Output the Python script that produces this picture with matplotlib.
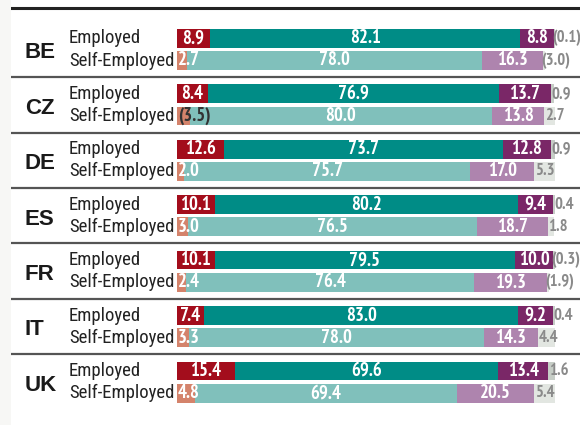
import matplotlib
matplotlib.use('Agg')
import matplotlib.pyplot as plt
from matplotlib import font_manager as fm

countries = ['BE', 'CZ', 'DE', 'ES', 'FR', 'IT', 'UK']
row_labels = ['Employed', 'Self-Employed']

# shares for employed: low / middle / high / other
emp_low = [8.9, 8.4, 12.6, 10.1, 10.1, 7.4, 15.4]
emp_mid = [82.1, 76.9, 73.7, 80.2, 79.5, 83.0, 69.6]
emp_high = [8.8, 13.7, 12.8, 9.4, 10.0, 9.2, 13.4]
emp_other = [-0.1, 0.9, 0.9, 0.4, -0.3, 0.4, 1.6]

# shares for self-employed
self_low = [2.7, -3.5, 2.0, 3.0, 2.4, 3.3, 4.8]
self_mid = [78.0, 80.0, 75.7, 76.5, 76.4, 78.0, 69.4]
self_high = [16.3, 13.8, 17.0, 18.7, 19.3, 14.3, 20.5]
self_other = [-3.0, 2.7, 5.3, 1.8, -1.9, 4.4, 5.4]

EMP_COLORS = ['#a30d1c', '#008c86', '#7a2767', '#c6cdc6']
SELF_COLORS = ['#d4836b', '#80c0bb', '#ae84ae', '#e2e6e1']
NARROW = ['Roboto Condensed', 'DejaVu Sans']
REGULAR = ['Liberation Sans', 'DejaVu Sans']


def pick_bold_narrow():
    # first narrow family that really ships a bold face
    for name in ['Archivo Narrow', 'PT Sans Narrow', 'Roboto Condensed']:
        for f in fm.fontManager.ttflist:
            if f.name == name and f.weight in (700, 'bold'):
                return [name, 'DejaVu Sans']
    return NARROW


NUMS = pick_bold_narrow()

# layout in pixels of the 580x425 canvas
W, H = 580, 425
PANEL_LEFT = 11
BAR_LEFT = 176.5
PX_PER_UNIT = 3.78
ROW_PITCH = 55.45
FIRST_CENTER = 49.4

fig = plt.figure(figsize=(W / 100, H / 100), dpi=100, facecolor='#f7f7f5')
ax = fig.add_axes([PANEL_LEFT / W, 0, 1 - PANEL_LEFT / W, 1])
ax.set_facecolor('white')
for s in ax.spines.values():
    s.set_visible(False)
ax.set_xticks([])
ax.set_yticks([])
ax.set_xlim(-(BAR_LEFT - PANEL_LEFT) / PX_PER_UNIT, (W - BAR_LEFT) / PX_PER_UNIT)
ax.set_ylim((H - FIRST_CENTER) / ROW_PITCH, -FIRST_CENTER / ROW_PITCH)


def px_x(px):
    return (px - BAR_LEFT) / PX_PER_UNIT


def fmt(v):
    return '(%.1f)' % abs(v) if v < 0 else '%.1f' % v


def draw_row(y, values, colors):
    left = 0.0
    for k, (v, c) in enumerate(zip(values, colors)):
        if k < 3:
            w = abs(v)
        else:
            w = v if v > 0 else 0.4
        ax.barh(y, w, left=left, height=0.337, color=c, linewidth=0)
        if k == 3:
            x = left + 0.15 if v > 0 else left - 0.5
            ax.text(x, y, fmt(v), ha='left', va='center',
                    color='#8a8a8a', fontsize=12, fontweight='bold', family=NUMS)
        elif k == 0 and w < 6:
            ax.text(0.3, y, fmt(v), ha='left', va='center',
                    color='#333333' if v < 0 else 'white',
                    fontsize=13.5, fontweight='bold', family=NUMS)
        else:
            ax.text(left + w / 2, y, fmt(v), ha='center', va='center',
                    color='white', fontsize=13.5, fontweight='bold', family=NUMS)
        left += w


for i, c in enumerate(countries):
    y_emp, y_self = i - 0.2, i + 0.2
    draw_row(y_emp, [emp_low[i], emp_mid[i], emp_high[i], emp_other[i]], EMP_COLORS)
    draw_row(y_self, [self_low[i], self_mid[i], self_high[i], self_other[i]], SELF_COLORS)
    ax.text(px_x(25), i + 0.06, c, ha='left', va='center', fontsize=16,
            fontweight='bold', color='#1a1a1a', family=REGULAR)
    ax.text(px_x(69), y_emp, row_labels[0], ha='left', va='center',
            fontsize=13.5, color='#222222', family=NARROW)
    ax.text(px_x(69), y_self, row_labels[1], ha='left', va='center',
            fontsize=13.5, color='#222222', family=NARROW)
    if i < len(countries) - 1:
        ax.axhline(i + 0.5, color='#555555', linewidth=1.6)

ax.axhline((7.5 - FIRST_CENTER) / ROW_PITCH, color='#222222', linewidth=2.2)

fig.savefig('out.png', dpi=100, facecolor=fig.get_facecolor())
